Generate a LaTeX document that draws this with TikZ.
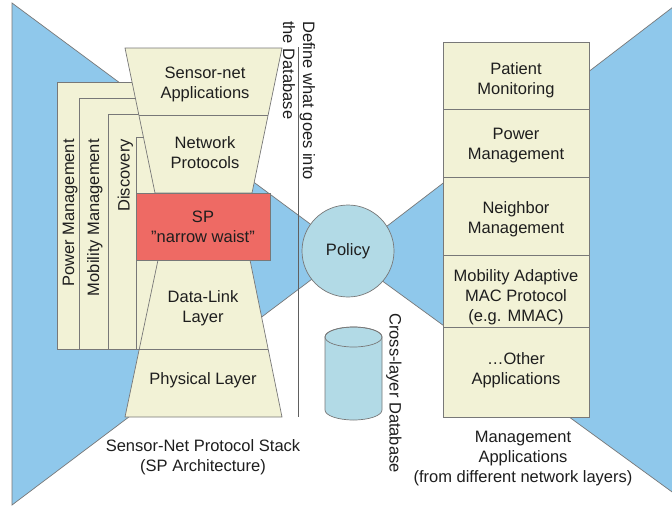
\documentclass[tikz,border=0pt]{standalone}
\usepackage{fontspec}
\setmainfont{Liberation Sans}
\definecolor{skyblue}{RGB}{143,200,235}
\definecolor{cream}{RGB}{242,242,214}
\definecolor{waistred}{RGB}{238,106,100}
\definecolor{paleblue}{RGB}{178,218,230}
\definecolor{edgegray}{RGB}{120,120,120}
\definecolor{ink}{RGB}{30,30,30}
\begin{document}
\begin{tikzpicture}[x=1pt,y=-1pt,
  font=\fontsize{16.5}{20}\selectfont, text=ink,
  outline/.style={draw=edgegray, line width=0.7pt},
  layer/.style={outline, fill=cream},
  funnel/.style={outline, fill=skyblue},
  lbl/.style={align=center, inner sep=0pt},
  appbox/.style={layer, minimum width=146pt, inner sep=0pt},
  sidetext/.style={rotate=90, anchor=base east, inner sep=0pt},
  downtext/.style={rotate=-90, anchor=west, inner sep=0pt, align=left}]
\useasboundingbox (0,0) rectangle (672,506);
\fill[white] (0,0) rectangle (672,506);

% blue funnels meeting at the policy
\path[funnel] (12,3) -- (348,252) -- (12,505) -- cycle;
\path[funnel] (348,256) -- (690,-6) -- (690,505) -- cycle;

% cross-layer management panels behind the stack
\path[layer] (57,82) rectangle (162,349);
\path[layer] (79,98) rectangle (162,349);
\path[layer] (108,114) rectangle (162,349);
\path[layer] (136,137) rectangle (162,349);
\node[sidetext] (pwr) at (74,139) {Power Management};
\node[sidetext] (mob) at (99,139) {Mobility Management};
\node[sidetext] (disc) at (129.5,139) {Discovery};

% protocol stack hourglass
\path[layer] (125,48) -- (282,48) -- (252,193) -- (155,193) -- cycle;
\draw[outline] (139,115) -- (268,115);
\path[layer] (158,260) -- (250,260) -- (282,417) -- (125,417) -- cycle;
\draw[outline] (139,349) -- (268,349);
\node[lbl] (apps) at (205,84) {Sensor-net\\Applications};
\node[lbl] (net) at (205,153) {Network\\Protocols};
\node[outline, fill=waistred, minimum width=134pt, minimum height=67pt,
  align=center, inner sep=0pt] (sp) at (203,226.5) {SP\\"narrow waist"};
\node[lbl] (dll) at (203,308.5) {Data-Link\\Layer};
\node[lbl] (phy) at (203,380) {Physical Layer};
\node[lbl] (stack) at (203,457) {Sensor-Net Protocol Stack\\(SP Architecture)};

% boundary line with its label
\coordinate (dtop) at (298,47);
\coordinate (dbot) at (298,417);
\draw[draw=edgegray!80!black, line width=0.7pt] (dtop) -- (dbot);
\node[downtext] (define) at (299,21) {Define what goes into\\the Database};

% policy
\node[circle, outline, fill=paleblue, minimum size=92pt, inner sep=0pt]
  (policy) at (348,251) {Policy};

% cross-layer database
\path[outline, fill=paleblue] (325,337) -- (325,410)
  arc[start angle=180, end angle=0, x radius=28.5, y radius=10]
  -- (382,337)
  arc[start angle=0, end angle=-180, x radius=28.5, y radius=10] -- cycle;
\draw[outline] (353.5,337) ellipse[x radius=28.5, y radius=10];
\node[downtext, align=center] (db) at (394,313) {Cross-layer Database};

% management applications column
\node[appbox, minimum height=67pt] (patient) at (516,75.5) {};
\node[appbox, minimum height=68pt] (power) at (516,143) {};
\node[appbox, minimum height=78pt] (neigh) at (516,216) {};
\node[appbox, minimum height=72pt] (mmac) at (516,291) {};
\node[appbox, minimum height=90pt] (other) at (516,372) {};
\node[lbl] (patienttxt) at (516,80.5) {Patient\\Monitoring};
\node[lbl] (powertxt) at (516,145.5) {Power\\Management};
\node[lbl] (neightxt) at (516,219) {Neighbor\\Management};
\node[lbl] (mmactxt) at (516,297.5) {Mobility Adaptive\\MAC Protocol\\(e.g. MMAC)};
\node[lbl] (othertxt) at (516,370.5) {\ldots Other\\Applications};
\node[lbl] (mgmt) at (523,459) {Management\\Applications\\(from different network layers)};
\end{tikzpicture}
\end{document}
